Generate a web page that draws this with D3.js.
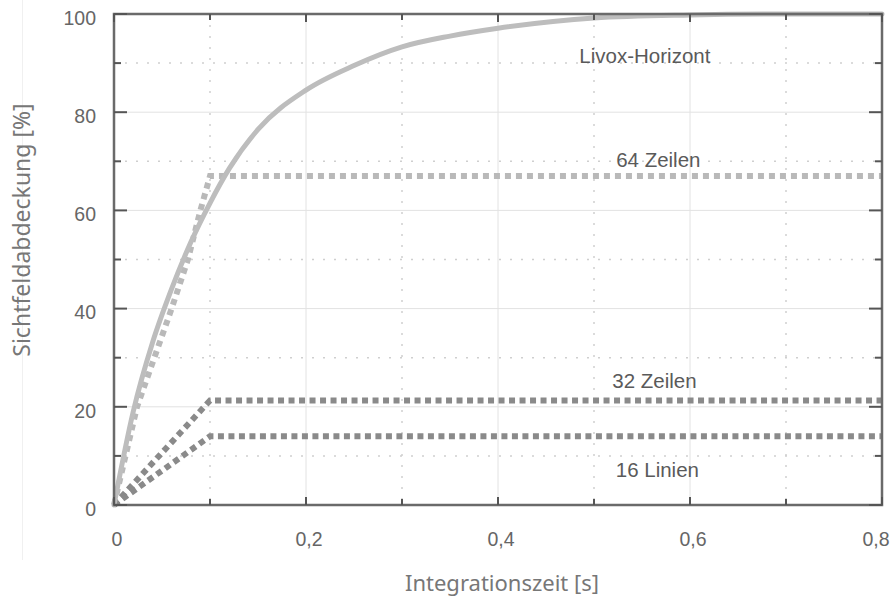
<!DOCTYPE html>
<html>
<head>
<meta charset="utf-8">
<script src="https://cdn.jsdelivr.net/npm/d3@7"></script>
<style>
  html, body { margin: 0; padding: 0; background: #fff; }
  svg { display: block; }
</style>
</head>
<body>
<svg id="chart" width="893" height="596"></svg>
<script>
// values
const livoxT = [0, 0.02, 0.04, 0.06, 0.08, 0.1, 0.12, 0.15, 0.2, 0.25, 0.3, 0.35, 0.4, 0.5, 0.6, 0.7, 0.8];
const livoxV = [0, 19, 33, 44, 53.5, 61.5, 68.5, 76.5, 84.5, 89.5, 93.3, 95.5, 97.1, 99.2, 99.8, 100, 100];

const z64T = [0, 0.012, 0.024, 0.042, 0.06, 0.077, 0.09, 0.1, 0.8];
const z64V = [0, 10, 20, 30, 40, 50, 60, 67, 67];

const z32T = [0, 0.1, 0.8];
const z32V = [0, 21.3, 21.3];

const z16T = [0, 0.1, 0.8];
const z16V = [0, 14, 14];

const xTicks = [0, 0.1, 0.2, 0.3, 0.4, 0.5, 0.6, 0.7, 0.8];
const yTicks = [0, 10, 20, 30, 40, 50, 60, 70, 80, 90, 100];

const labelText = ["Livox-Horizont", "64 Zeilen", "32 Zeilen", "16 Linien"];
const labelT = [0.553, 0.567, 0.563, 0.566];
const labelV = [90, 68.8, 23.8, 5.7];

const svg = d3.select("#chart");
const pLeft = 114, pRight = 882, pTop = 14, pBottom = 505;

const x = d3.scaleLinear().domain([0, 0.8]).range([pLeft, pRight]);
const y = d3.scaleLinear().domain([0, 100]).range([pBottom, pTop]);

const isMajorX = t => Math.round(t * 10) % 2 === 0;
const isMajorY = v => v % 20 === 0;
const fmt = t => t === 0 ? "0" : d3.format(".1f")(t).replace(".", ",");

// faint outer edge
svg.append("line")
  .attr("x1", 22.5).attr("x2", 22.5).attr("y1", 0).attr("y2", 560)
  .attr("stroke", "#f0f0f0").attr("stroke-width", 1);

// grid
const grid = svg.append("g");
xTicks.filter(t => t > 0 && t < 0.8).forEach(t => {
  grid.append("line")
    .attr("x1", x(t)).attr("x2", x(t)).attr("y1", pTop).attr("y2", pBottom)
    .attr("stroke", isMajorX(t) ? "#e2e2e2" : "#cfcfcf")
    .attr("stroke-width", isMajorX(t) ? 1 : 1.5)
    .attr("stroke-dasharray", isMajorX(t) ? null : "2,9");
});
yTicks.filter(v => v > 0 && v < 100).forEach(v => {
  grid.append("line")
    .attr("x1", pLeft).attr("x2", pRight).attr("y1", y(v)).attr("y2", y(v))
    .attr("stroke", isMajorY(v) ? "#e2e2e2" : "#cfcfcf")
    .attr("stroke-width", isMajorY(v) ? 1 : 1.5)
    .attr("stroke-dasharray", isMajorY(v) ? null : "2,9");
});

// series
const line = d3.line().x(d => x(d[0])).y(d => y(d[1]));
const zip = (a, b) => a.map((v, i) => [v, b[i]]);

svg.append("path")
  .datum(zip(z64T, z64V))
  .attr("d", line)
  .attr("fill", "none").attr("stroke", "#b9b9b9")
  .attr("stroke-width", 6).attr("stroke-dasharray", "6,5");

svg.append("path")
  .datum(zip(z32T, z32V))
  .attr("d", line)
  .attr("fill", "none").attr("stroke", "#8a8a8a")
  .attr("stroke-width", 6).attr("stroke-dasharray", "6,4.5");

svg.append("path")
  .datum(zip(z16T, z16V))
  .attr("d", line)
  .attr("fill", "none").attr("stroke", "#8a8a8a")
  .attr("stroke-width", 6).attr("stroke-dasharray", "6,4.5");

svg.append("path")
  .datum(zip(livoxT, livoxV))
  .attr("d", d3.line().x(d => x(d[0])).y(d => y(d[1])).curve(d3.curveMonotoneX))
  .attr("fill", "none").attr("stroke", "#bdbdbd")
  .attr("stroke-width", 5).attr("stroke-linecap", "round");

// frame
svg.append("rect")
  .attr("x", pLeft).attr("y", pTop)
  .attr("width", pRight - pLeft).attr("height", pBottom - pTop)
  .attr("fill", "none").attr("stroke", "#6a6a6a").attr("stroke-width", 2.5);

// inward ticks on all sides
const ticks = svg.append("g").attr("stroke", "#555").attr("stroke-width", 2);
yTicks.forEach(v => {
  const len = isMajorY(v) ? 13 : 7;
  ticks.append("line").attr("x1", pLeft).attr("x2", pLeft + len).attr("y1", y(v)).attr("y2", y(v));
  ticks.append("line").attr("x1", pRight).attr("x2", pRight - len).attr("y1", y(v)).attr("y2", y(v));
});
xTicks.forEach(t => {
  const len = isMajorX(t) ? 8 : 6;
  ticks.append("line").attr("x1", x(t)).attr("x2", x(t)).attr("y1", pBottom).attr("y2", pBottom - len);
  ticks.append("line").attr("x1", x(t)).attr("x2", x(t)).attr("y1", pTop).attr("y2", pTop + len);
});

// tick labels
const tickFont = "'Liberation Sans', Arial, sans-serif";
svg.append("g").selectAll("text")
  .data(yTicks.filter(isMajorY)).enter().append("text")
  .attr("x", 96).attr("y", d => y(d) + 4)
  .attr("dy", "0.35em")
  .attr("text-anchor", "end")
  .attr("font-family", tickFont).attr("font-size", 19.5)
  .attr("fill", "#666")
  .text(d => d);

svg.append("g").selectAll("text")
  .data(xTicks.filter(isMajorX)).enter().append("text")
  .attr("x", d => Math.min(x(d) + 3, 876)).attr("y", 539)
  .attr("dy", "0.35em")
  .attr("text-anchor", "middle")
  .attr("font-family", tickFont).attr("font-size", 19.5)
  .attr("fill", "#666")
  .text(d => fmt(d));

// series labels
svg.append("g").selectAll("text")
  .data(labelText).enter().append("text")
  .attr("x", (d, i) => x(labelT[i])).attr("y", (d, i) => y(labelV[i]))
  .attr("text-anchor", "middle")
  .attr("font-family", tickFont).attr("font-size", 20.5)
  .attr("fill", "#5a5a5a")
  .text(d => d);

// axis titles
const titleFont = "'Noto Sans', 'Open Sans', sans-serif";
svg.append("text")
  .attr("x", 502).attr("y", 583)
  .attr("dy", "0.35em")
  .attr("text-anchor", "middle")
  .attr("font-family", titleFont).attr("font-size", 22)
  .attr("fill", "#777")
  .text("Integrationszeit [s]");

svg.append("text")
  .attr("transform", "translate(22,230) rotate(-90)")
  .attr("dy", "0.35em")
  .attr("text-anchor", "middle")
  .attr("font-family", titleFont).attr("font-size", 23)
  .attr("fill", "#777")
  .text("Sichtfeldabdeckung [%]");
</script>
</body>
</html>
